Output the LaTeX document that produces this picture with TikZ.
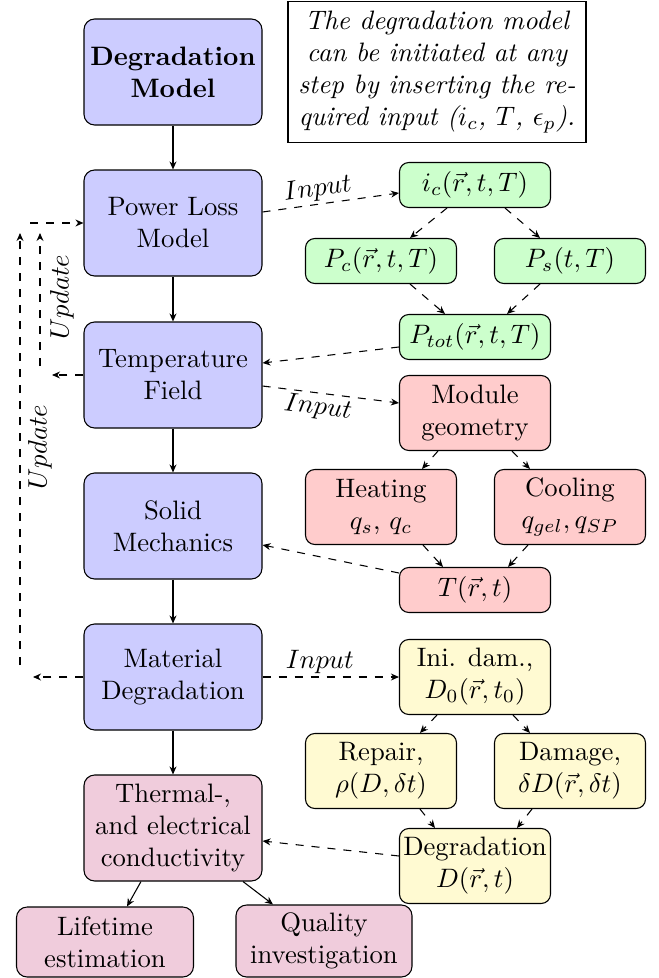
\documentclass[tikz,border=0pt]{standalone}
\usetikzlibrary{arrows.meta,calc}
\definecolor{bluebox}{RGB}{204,204,255}
\definecolor{greenbox}{RGB}{204,255,204}
\definecolor{redbox}{RGB}{255,204,204}
\definecolor{ylwbox}{RGB}{255,250,210}
\definecolor{pnkbox}{RGB}{240,204,220}
\tikzset{
  mainbox/.style={draw, rounded corners=4pt, fill=bluebox, minimum width=178*0.375pt, minimum height=106*0.375pt, align=center, inner sep=1pt},
  subbox/.style={draw, rounded corners=3.5pt, minimum width=151*0.375pt, align=center, inner sep=1pt},
  onebox/.style={subbox, minimum height=45*0.375pt},
  twobox/.style={subbox, minimum height=75*0.375pt},
  flow/.style={-{Stealth[length=3pt,width=2.6pt]}},
  dflow/.style={flow, dashed},
  lbl/.style={inner sep=1pt},
}
\begin{document}
\begin{tikzpicture}[x=0.375pt,y=-0.375pt]
\useasboundingbox (0,0) rectangle (658,978);
% main column
\node[mainbox, font=\bfseries] (dm) at (173,72) {Degradation\\Model};
\node[mainbox] (pl) at (173,223) {Power Loss\\Model};
\node[mainbox] (tf) at (173,375) {Temperature\\Field};
\node[mainbox] (sm) at (173,526) {Solid\\Mechanics};
\node[mainbox] (md) at (173,677) {Material\\Degradation};
\node[mainbox, fill=pnkbox] (tc) at (173,828) {Thermal-,\\and electrical\\conductivity};
\node[draw, rounded corners=4pt, fill=pnkbox, minimum width=177*0.375pt, minimum height=70*0.375pt, align=center, inner sep=1pt] (lt) at (105,942) {Lifetime\\estimation};
\node[draw, rounded corners=4pt, fill=pnkbox, minimum width=176*0.375pt, minimum height=72*0.375pt, align=center, inner sep=1pt] (qi) at (324,941) {Quality\\investigation};
% note
\node[draw, fill=white, align=center, font=\itshape, minimum width=298*0.375pt, minimum height=141*0.375pt, inner sep=1pt] (note) at (437,72) {The degradation model\\can be initiated at any\\step by inserting the re-\\quired input ($i_c$, $T$, $\epsilon_p$).};
% green
\node[onebox, fill=greenbox] (ic) at (475,185) {$i_c(\vec{r},t,T)$};
\node[onebox, fill=greenbox] (pc) at (381,261) {$P_c(\vec{r},t,T)$};
\node[onebox, fill=greenbox] (ps) at (570,261) {$P_s(t,T)$};
\node[onebox, fill=greenbox] (pt) at (475,337) {$P_{tot}(\vec{r},t,T)$};
% red
\node[twobox, fill=redbox] (mg) at (475,413) {Module\\geometry};
\node[twobox, fill=redbox] (ht) at (381,507) {Heating\\$q_s$, $q_c$};
\node[twobox, fill=redbox] (cl) at (570,507) {Cooling\\$q_{gel}, q_{SP}$};
\node[onebox, fill=redbox] (tr) at (475,590) {$T(\vec{r},t)$};
% yellow
\node[twobox, fill=ylwbox] (id) at (475,677) {Ini. dam.,\\$D_0(\vec{r},t_0)$};
\node[twobox, fill=ylwbox] (rp) at (381,771) {Repair,\\$\rho(D,\delta t)$};
\node[twobox, fill=ylwbox] (dg) at (570,771) {Damage,\\$\delta D(\vec{r},\delta t)$};
\node[twobox, fill=ylwbox, inner xsep=0pt] (dd) at (475,866) {Degradation\\$D(\vec{r},t)$};
% main flow
\draw[flow] (dm) -- (pl);
\draw[flow] (pl) -- (tf);
\draw[flow] (tf) -- (sm);
\draw[flow] (sm) -- (md);
\draw[flow] (md) -- (tc);
\draw[flow] ($(tc.south)+(-32,0)$) -- ($(lt.north)+(22,0)$);
\draw[flow] ($(tc.south)+(70,0)$) -- ($(qi.north)+(-51,0)$);
% green flow
\draw[dflow] ($(pl.east)+(0,-11)$) -- node[lbl, pos=0.42, above, sloped] {$Input$} ($(ic.west)+(0,8)$);
\draw[dflow] ($(ic.south)+(-28,0)$) -- ($(pc.north)+(29,0)$);
\draw[dflow] ($(ic.south)+(30,0)$) -- ($(ps.north)+(-30,0)$);
\draw[dflow] ($(pc.south)+(29,0)$) -- ($(pt.north)+(-30,0)$);
\draw[dflow] ($(ps.south)+(-30,0)$) -- ($(pt.north)+(32,0)$);
\draw[dflow] ($(pt.west)+(0,10)$) -- ($(tf.east)+(0,-12)$);
% red flow
\draw[dflow] ($(tf.east)+(0,11)$) -- node[lbl, pos=0.42, below, sloped] {$Input$} ($(mg.west)+(0,-10)$);
\draw[dflow] ($(mg.south)+(-37,0)$) -- ($(ht.north)+(41,0)$);
\draw[dflow] ($(mg.south)+(37,0)$) -- ($(cl.north)+(-40,0)$);
\draw[dflow] ($(ht.south)+(42,0)$) -- ($(tr.north)+(-32,0)$);
\draw[dflow] ($(cl.south)+(-42,0)$) -- ($(tr.north)+(33,0)$);
\draw[dflow] ($(tr.west)+(0,-17)$) -- ($(sm.east)+(0,19)$);
% yellow flow
\draw[dflow] (md.east) -- node[lbl, pos=0.42, above] {$Input$} (id.west);
\draw[dflow] ($(id.south)+(-38,0)$) -- ($(rp.north)+(39,0)$);
\draw[dflow] ($(id.south)+(38,0)$) -- ($(dg.north)+(-40,0)$);
\draw[dflow] ($(rp.south)+(39,0)$) -- ($(dd.north)+(-40,0)$);
\draw[dflow] ($(dg.south)+(-38,0)$) -- ($(dd.north)+(42,0)$);
\draw[dflow] ($(dd.west)+(0,-10)$) -- ($(tc.east)+(0,13)$);
% update loops
\coordinate (u1) at (52,375);
\coordinate (u2a) at (40,366);
\coordinate (u2b) at (40,233);
\coordinate (u3) at (30,223);
\coordinate (u4) at (33,677);
\coordinate (u5a) at (20,665);
\coordinate (u5b) at (20,233);
\draw[dflow] (tf.west) -- (u1);
\draw[dflow] (u2a) -- (u2b);
\draw[dflow] (u3) -- (pl.west);
\draw[dflow] (md.west) -- (u4);
\draw[dflow] (u5a) -- (u5b);
\node[rotate=90, lbl] (up1) at (62,297) {$Update$};
\node[rotate=90, lbl] (up2) at (40,447) {$Update$};
\end{tikzpicture}
\end{document}
